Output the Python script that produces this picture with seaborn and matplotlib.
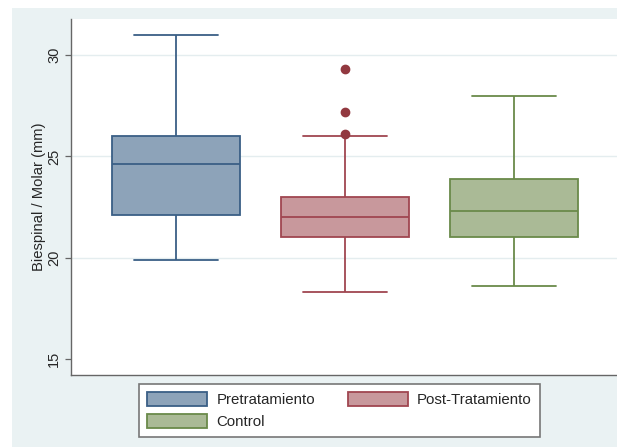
import matplotlib
matplotlib.use("Agg")
import matplotlib.pyplot as plt
from matplotlib.patches import Patch
import pandas as pd
import seaborn as sns

# Observations per group (mm)
groups = ["Pretratamiento", "Post-Tratamiento", "Control"]
pretratamiento = [19.9, 21.0, 22.1, 23.5, 24.6, 25.3, 26.0, 28.0, 31.0]
post_tratamiento = [18.3, 19.5, 20.2, 20.8, 21.0, 21.3, 21.6, 21.8, 22.0,
                    22.2, 22.5, 22.8, 23.0, 26.0, 26.1, 27.2, 29.3]
control = [18.6, 20.0, 21.0, 21.7, 22.3, 23.0, 23.9, 25.5, 28.0]
y_ticks = [15, 20, 25, 30]

fills = ["#8DA3B9", "#C8989C", "#AABA96"]
edges = ["#3A5F86", "#A04650", "#6A8A4A"]
flier_color = "#923940"
bg = "#EAF2F3"

df = pd.DataFrame({
    "grupo": (["Pretratamiento"] * len(pretratamiento)
              + ["Post-Tratamiento"] * len(post_tratamiento)
              + ["Control"] * len(control)),
    "valor": pretratamiento + post_tratamiento + control,
})

sns.set_style("white")
plt.rcParams["font.family"] = ["Liberation Sans", "DejaVu Sans"]

fig = plt.figure(figsize=(6.17, 4.47), dpi=100, facecolor="white")

# Tinted graph region behind the plot area
bg_ax = fig.add_axes([12 / 617, 0, 1 - 12 / 617, 1 - 8 / 447], zorder=0)
bg_ax.set_axis_off()
bg_ax.add_patch(plt.Rectangle((0, 0), 1, 1, transform=bg_ax.transAxes,
                              facecolor=bg, edgecolor="none"))

ax = fig.add_axes([71 / 617, 1 - 375 / 447, 1 - 71 / 617, (375 - 19) / 447],
                  zorder=1)
ax.set_facecolor("white")

for g, fc, ec in zip(groups, fills, edges):
    sns.boxplot(data=df[df["grupo"] == g], x="grupo", y="valor", order=groups,
                color=fc, linecolor=ec, linewidth=1.3, width=0.755,
                saturation=1, capwidths=0.5, whis=1.5, ax=ax,
                flierprops=dict(marker="o", markersize=6,
                                markerfacecolor=flier_color,
                                markeredgecolor=flier_color))

ax.set_xlim(-0.62, 2.61)
ax.set_ylim(14.21, 31.78)
ax.set_yticks(y_ticks)
ax.set_yticklabels([str(t) for t in y_ticks], rotation=90, va="center",
                   fontsize=10.5)
ax.tick_params(axis="y", length=4, width=0.9, color="#666666", pad=3,
               left=True)
ax.set_xticks([])
ax.set_xlabel("")
ax.set_ylabel("Biespinal / Molar (mm)", fontsize=10.6, labelpad=1)
for t in [20, 25, 30]:
    ax.axhline(t, color="#E4EDEF", linewidth=1.0, zorder=0)
for side in ["top", "right"]:
    ax.spines[side].set_visible(False)
for side in ["left", "bottom"]:
    ax.spines[side].set_color("#666666")
    ax.spines[side].set_linewidth(1.0)

# Legend entries ordered so rows read: Pre, Post / Control
handles = [Patch(facecolor=fc, edgecolor=ec, linewidth=1.3)
           for fc, ec in zip(fills, edges)]
order = [0, 2, 1]
fs = 10.8
leg = fig.legend([handles[i] for i in order], [groups[i] for i in order],
                 ncol=2, loc="upper left",
                 bbox_to_anchor=(139 / 617, 1 - 384 / 447),
                 fontsize=fs, frameon=True, fancybox=False, framealpha=1,
                 handlelength=4.0, handleheight=1.05, handletextpad=0.6,
                 columnspacing=2.2, labelspacing=0.45, borderpad=0.55,
                 borderaxespad=0)
leg.set_zorder(2)
leg.get_frame().set_edgecolor("#777777")
leg.get_frame().set_linewidth(1.2)
leg.get_frame().set_facecolor("white")

fig.savefig("out.png", dpi=100, facecolor="white")
